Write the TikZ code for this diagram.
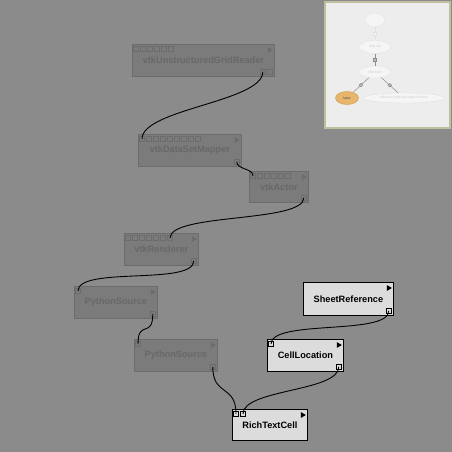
\documentclass[tikz,border=0pt]{standalone}
\usepackage{fontspec}
\setsansfont{Liberation Sans}
\usetikzlibrary{calc,shapes.geometric}

\definecolor{canvas}{HTML}{8B8B8B}
\definecolor{ghostfill}{HTML}{7B7B7B}
\definecolor{ghostline}{HTML}{6C6C6C}
\definecolor{ghosttext}{HTML}{686868}
\definecolor{modfill}{HTML}{DCDCDC}
\definecolor{mapfill}{HTML}{EDEDED}
\definecolor{mapline}{HTML}{BFBF9E}
\definecolor{mapnode}{HTML}{F5F5F5}
\definecolor{mapedge}{HTML}{E2E2E2}
\definecolor{maptext}{HTML}{CFCFCF}
\definecolor{latexfill}{HTML}{E8B56C}
\definecolor{latexline}{HTML}{D49A48}

\tikzset{
  module/.style={draw=black, fill=modfill, line width=0.8pt, anchor=north west,
    inner sep=0pt, font=\sffamily\bfseries\fontsize{9.2}{10}\selectfont},
  ghost/.style={module, draw=ghostline, fill=ghostfill, text=ghosttext},
  port/.style={draw=black, fill=modfill, minimum size=5pt, inner sep=0pt, line width=0.5pt},
  ghostport/.style={port, draw=ghostline, fill=ghostfill},
  pipe/.style={line width=0.9pt, black},
  version/.style={ellipse, draw=mapedge, fill=mapnode, inner sep=0pt, line width=0.4pt,
    font=\sffamily\fontsize{3.5}{4}\selectfont, text=maptext},
  tag/.style={draw=black!45, fill=black!25, minimum size=2.5pt, inner sep=0pt, sloped},
}

\begin{document}
\begin{tikzpicture}[x=1pt, y=-1pt]
\fill [canvas] (0,0) rectangle (452,452);
\useasboundingbox (0,0) rectangle (452,452);

% modules
\node [ghost, minimum width=142pt, minimum height=32pt] (ugr) at (132,44) {vtkUnstructuredGridReader};
\node [ghost, minimum width=103pt, minimum height=32pt] (mapper) at (138,134) {vtkDataSetMapper};
\node [ghost, minimum width=59pt, minimum height=31pt] (actor) at (249,171) {vtkActor};
\node [ghost, minimum width=74pt, minimum height=32pt] (renderer) at (124,233) {vtkRenderer};
\node [ghost, minimum width=83pt, minimum height=32pt] (pysrcA) at (74,286) {PythonSource};
\node [ghost, minimum width=83pt, minimum height=32pt] (pysrcB) at (134,339) {PythonSource};
\node [module, minimum width=90pt, minimum height=33pt] (sheet) at (303,282) {SheetReference};
\node [module, minimum width=76pt, minimum height=32pt] (cellloc) at (267,339) {CellLocation};
\node [module, minimum width=75pt, minimum height=31pt] (rich) at (232,409) {RichTextCell};

% run triangles
\foreach \m in {ugr,mapper,actor,renderer,pysrcA,pysrcB}
  \fill [ghostline] ($(\m.north east)+(-7,3)$) -- ++(5,3) -- ++(-5,3) -- cycle;
\foreach \m in {sheet,cellloc,rich}
  \fill [black] ($(\m.north east)+(-7,3)$) -- ++(5,3) -- ++(-5,3) -- cycle;

% input ports
\foreach \i in {1,...,6}
  \node [ghostport] (ugr-i\i) at ($(ugr.north west)+({4+7*(\i-1)},5)$) {};
\foreach \i in {1,...,9}
  \node [ghostport] (mapper-i\i) at ($(mapper.north west)+({4+7*(\i-1)},5)$) {};
\foreach \i in {1,...,6}
  \node [ghostport] (actor-i\i) at ($(actor.north west)+({4+7*(\i-1)},5)$) {};
\foreach \i in {1,...,7}
  \node [ghostport] (renderer-i\i) at ($(renderer.north west)+({4+7*(\i-1)},5)$) {};
\node [ghostport] (pysrcA-i1) at ($(pysrcA.north west)+(4,5)$) {};
\node [ghostport] (pysrcB-i1) at ($(pysrcB.north west)+(4,5)$) {};
\node [port] (cellloc-i1) at ($(cellloc.north west)+(4,5)$) {};
\foreach \i in {1,2}
  \node [port] (rich-i\i) at ($(rich.north west)+({4+7*(\i-1)},5)$) {};

% output ports
\node [ghostport] (ugr-o1) at ($(ugr.south east)+(-12,-5)$) {};
\node [ghostport] (ugr-o2) at ($(ugr.south east)+(-5,-5)$) {};
\foreach \m in {mapper,actor,renderer,pysrcA,pysrcB}
  \node [ghostport] (\m-o1) at ($(\m.south east)+(-5,-5)$) {};
\foreach \m in {sheet,cellloc}
  \node [port] (\m-o1) at ($(\m.south east)+(-5,-5)$) {};

% connections
\draw [pipe] (ugr-o1.center) .. controls +(0,30) and +(0,-30) .. (mapper-i1.center);
\draw [pipe] (mapper-o1.center) .. controls +(0,8) and +(0,-8) .. (actor-i1.center);
\draw [pipe] (actor-o1.center) .. controls +(0,25) and +(0,-25) .. (renderer-i7.center);
\draw [pipe] (renderer-o1.center) .. controls +(0,25) and +(0,-25) .. (pysrcA-i1.center);
\draw [pipe] (pysrcA-o1.center) .. controls +(0,25) and +(0,-25) .. (pysrcB-i1.center);
\draw [pipe] (pysrcB-o1.center) .. controls +(0,30) and +(0,-30) .. (rich-i1.center);
\draw [pipe] (sheet-o1.center) .. controls +(0,25) and +(0,-25) .. (cellloc-i1.center);
\draw [pipe] (cellloc-o1.center) .. controls +(0,25) and +(0,-25) .. (rich-i2.center);

% version tree overview
\draw [fill=mapfill, draw=mapline, line width=1.2pt] (325,2) rectangle (450,128);
\node [version, minimum width=20pt, minimum height=14pt] (root) at (375,20) {};
\node [version, minimum width=32pt, minimum height=13pt] (onlyvtk) at (375,47) {only vtk};
\node [version, minimum width=32pt, minimum height=12pt] (offscreen) at (375,72) {offscreen};
\node [version, fill=latexfill, draw=latexline, text=black!70, minimum width=23pt,
  minimum height=13pt] (latex) at (347,98) {latex};
\node [version, minimum width=82pt, minimum height=10pt] (offpkg) at (404,98) {offscreen with package module};
\draw [mapedge, line width=0.6pt] (root) -- node [tag, draw=mapedge, fill=mapnode] {} (onlyvtk);
\draw [black!45, line width=0.6pt] (onlyvtk) -- node [tag] {} (offscreen);
\draw [black!40, line width=0.6pt] (offscreen) -- node [tag] {} (latex);
\draw [black!40, line width=0.6pt] (offscreen) -- node [tag] {} (offpkg);
\end{tikzpicture}
\end{document}
